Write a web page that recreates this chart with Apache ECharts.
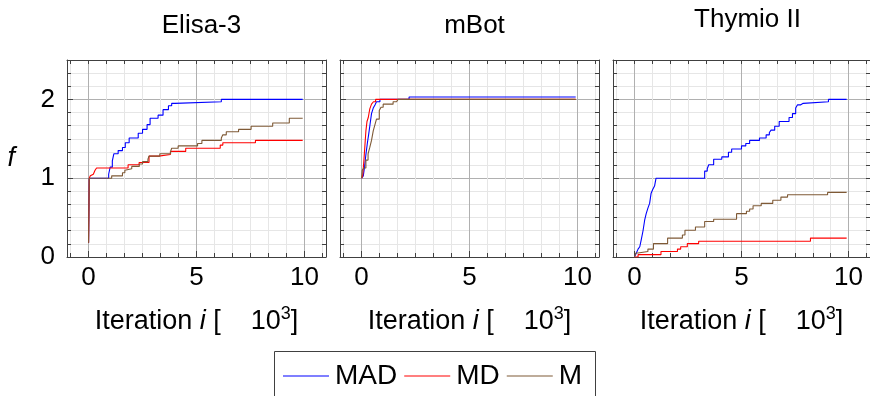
<!DOCTYPE html>
<html><head><meta charset="utf-8">
<script src="https://cdn.jsdelivr.net/npm/echarts@6/dist/echarts.min.js"></script>
<style>html,body{margin:0;padding:0;background:#fff}#c{width:870px;height:396px}</style>
</head><body><div id="c"></div>
<script>
// ---------- data ----------
const panelTitles = ['Elisa-3', 'mBot', 'Thymio II'];
const seriesNames = ['MAD', 'MD', 'M'];
const xMajorTicks = [0, 5, 10];
const yMajorTicks = [0, 1, 2];
const xTickLabels = ['0', '5', '10'];
const yTickLabels = ['0', '1', '2'];

// Elisa-3
const elisaMAD = [[0,0.18],[0.03,1.0],[0.93,1.05],[1.0,1.14],[1.1,1.22],[1.17,1.31],[1.37,1.35],[1.57,1.39],[1.7,1.45],[1.88,1.51],[2.3,1.57],[2.5,1.62],[2.71,1.68],[2.85,1.76],[3.22,1.80],[3.45,1.87],[3.7,1.92],[3.85,1.95],[4.0,1.97],[6.15,2.0],[9.92,2.0]];
const elisaMD = [[0,0.18],[0.03,1.0],[0.08,1.03],[0.15,1.05],[0.22,1.07],[0.3,1.1],[0.37,1.13],[1.83,1.17],[2.34,1.20],[2.8,1.28],[3.25,1.30],[3.79,1.34],[4.5,1.38],[6.1,1.42],[6.22,1.45],[7.73,1.48],[9.92,1.48]];
const elisaM = [[0,0.18],[0.03,1.0],[1.07,1.03],[1.57,1.07],[1.68,1.10],[1.75,1.12],[2.0,1.15],[2.35,1.18],[2.5,1.21],[2.75,1.24],[2.8,1.28],[3.3,1.31],[3.8,1.34],[3.85,1.38],[4.15,1.41],[5.05,1.44],[5.25,1.48],[6.15,1.51],[6.22,1.55],[6.38,1.59],[6.95,1.62],[7.53,1.66],[8.53,1.70],[9.3,1.76],[9.92,1.76]];

// mBot
const mbotMAD = [[0,1.0],[0.08,1.03],[0.14,1.15],[0.2,1.3],[0.27,1.45],[0.33,1.56],[0.4,1.7],[0.46,1.82],[0.54,1.89],[0.62,1.93],[0.69,1.97],[0.85,2.0],[2.2,2.03],[9.92,2.03]];
const mbotMD = [[0,1.0],[0.05,1.03],[0.1,1.2],[0.15,1.4],[0.2,1.6],[0.25,1.72],[0.31,1.77],[0.38,1.88],[0.46,1.94],[0.55,1.97],[0.65,2.0],[9.92,2.0]];
const mbotM = [[0,1.0],[0.03,1.1],[0.1,1.13],[0.2,1.23],[0.3,1.31],[0.38,1.39],[0.46,1.48],[0.54,1.6],[0.62,1.68],[0.69,1.75],[0.82,1.86],[0.9,1.9],[1.0,1.94],[1.46,1.97],[1.62,1.99],[1.69,2.0],[9.92,2.0]];

// Thymio II
const thymioMAD = [[0,0],[0.09,0.05],[0.17,0.1],[0.25,0.13],[0.32,0.22],[0.4,0.33],[0.48,0.47],[0.55,0.55],[0.63,0.62],[0.71,0.68],[0.78,0.81],[0.86,0.86],[0.94,0.9],[1.01,1.0],[3.28,1.09],[3.4,1.12],[3.47,1.17],[3.7,1.24],[4.08,1.27],[4.39,1.33],[4.54,1.37],[5.0,1.41],[5.2,1.44],[5.38,1.48],[5.84,1.51],[6.15,1.55],[6.3,1.58],[6.38,1.61],[6.55,1.66],[6.76,1.72],[7.22,1.77],[7.38,1.82],[7.53,1.89],[7.61,1.93],[7.75,1.95],[7.88,1.97],[9.06,2.0],[9.91,2.0]];
const thymioMD = [[0,0],[0.17,0.03],[1.24,0.07],[2.01,0.1],[2.16,0.13],[2.47,0.17],[3.0,0.2],[8.22,0.24],[9.91,0.24]];
const thymioM = [[0,0],[0.06,0.05],[0.17,0.07],[0.63,0.1],[0.89,0.17],[1.55,0.24],[2.24,0.28],[2.36,0.34],[2.85,0.38],[3.28,0.45],[3.7,0.48],[4.77,0.55],[5.23,0.58],[5.38,0.61],[5.54,0.65],[5.92,0.68],[6.46,0.72],[6.84,0.76],[7.15,0.79],[9.02,0.82],[9.91,0.82]];

const panelData = [
  [elisaMAD, elisaMD, elisaM],
  [mbotMAD, mbotMD, mbotM],
  [thymioMAD, thymioMD, thymioM]
];

// ---------- styling / layout ----------
const FONT = 'Liberation Sans';
const colors = ['#0000ff', '#ff0000', '#7f5a36'];
const frameColor = '#404040';
const majorGrid = '#b0b0b0';
const minorGrid = '#e6e6e6';
const X_MIN = -1, X_MAX = 11, Y_MIN = 0, Y_MAX = 2.5;
const gridLefts = [67, 340, 613];
const gridWidth = 259, gridTop = 60, gridHeight = 197;

function multiples(step, lo, hi) {
  const out = [];
  for (let k = Math.ceil(lo / step - 1e-9); k * step <= hi + 1e-9; k++) out.push(+(k * step).toFixed(6));
  return out;
}
const isMajor = (v, list) => list.some(m => Math.abs(m - v) < 1e-6);
const xAll = multiples(5 / 6, X_MIN, X_MAX);
const xMinor = xAll.filter(v => !isMajor(v, xMajorTicks));
const yAll = multiples(1 / 6, Y_MIN, Y_MAX).filter(v => v > 1e-6 && v < Y_MAX - 1e-6);
const yMinor = yAll.filter(v => !isMajor(v, yMajorTicks));

const grids = [], xAxes = [], yAxes = [], series = [], titles = [];
panelTitles.forEach((t, p) => {
  grids.push({ left: gridLefts[p], top: gridTop, width: gridWidth, height: gridHeight, containLabel: false });
  const cx = gridLefts[p] + gridWidth * (0 - X_MIN + 5) / (X_MAX - X_MIN);
  titles.push({ text: t, left: cx, textAlign: 'center', top: p === 2 ? 2 : 8,
    textStyle: { fontFamily: FONT, fontSize: 26, fontWeight: 'normal', color: '#000' } });
  const base = { type: 'value', gridIndex: p, min: X_MIN, max: X_MAX };
  const xFirst = xAxes.length;
  xAxes.push(Object.assign({}, base, { position: 'bottom',
    axisLine: { show: true, onZero: false, lineStyle: { color: frameColor, width: 1 } },
    axisTick: { show: true, inside: true, length: 4, customValues: xMinor, lineStyle: { color: frameColor } },
    axisLabel: { show: false },
    splitLine: { show: true, lineStyle: { color: minorGrid, width: 1 } } }));
  xAxes.push(Object.assign({}, base, { position: 'bottom',
    axisLine: { show: false, onZero: false },
    axisTick: { show: true, inside: true, length: 6, customValues: xMajorTicks, lineStyle: { color: frameColor } },
    axisLabel: { show: true, customValues: xMajorTicks, margin: 8,
      formatter: v => xTickLabels[xMajorTicks.findIndex(m => Math.abs(m - v) < 1e-6)] || '',
      fontFamily: FONT, fontSize: 26, color: '#000' },
    splitLine: { show: true, lineStyle: { color: majorGrid, width: 1 } },
    name: '{a|Iteration }{b|i}{a| [    10}{c|3}{a|]}', nameLocation: 'middle', nameGap: 48,
    nameTextStyle: { rich: {
      a: { fontFamily: FONT, fontSize: 27, color: '#000', lineHeight: 30, verticalAlign: 'bottom' },
      b: { fontFamily: FONT, fontSize: 27, fontStyle: 'italic', color: '#000', lineHeight: 30, verticalAlign: 'bottom' },
      c: { fontFamily: FONT, fontSize: 18, color: '#000', lineHeight: 30, verticalAlign: 'top' } } } }));
  xAxes.push(Object.assign({}, base, { position: 'top',
    axisLine: { show: true, onZero: false, lineStyle: { color: frameColor, width: 1 } },
    axisTick: { show: true, inside: true, length: 4, customValues: xAll, lineStyle: { color: frameColor } },
    axisLabel: { show: false }, splitLine: { show: false } }));

  const ybase = { type: 'value', gridIndex: p, min: Y_MIN, max: Y_MAX };
  yAxes.push(Object.assign({}, ybase, { position: 'left',
    axisLine: { show: true, onZero: false, lineStyle: { color: frameColor, width: 1 } },
    axisTick: { show: true, inside: true, length: 4, customValues: yMinor, lineStyle: { color: frameColor } },
    axisLabel: { show: false },
    splitLine: { show: true, lineStyle: { color: minorGrid, width: 1 } } }));
  yAxes.push(Object.assign({}, ybase, { position: 'left',
    axisLine: { show: false, onZero: false },
    axisTick: { show: true, inside: true, length: 6, customValues: yMajorTicks, lineStyle: { color: frameColor } },
    axisLabel: { show: p === 0, customValues: yMajorTicks, margin: 12,
      formatter: v => yTickLabels[yMajorTicks.findIndex(m => Math.abs(m - v) < 1e-6)] || '',
      fontFamily: FONT, fontSize: 26, color: '#000' },
    splitLine: { show: true, lineStyle: { color: majorGrid, width: 1 } },
    name: p === 0 ? 'f' : '', nameLocation: 'middle', nameRotate: 0, nameGap: 52,
    nameTextStyle: { fontFamily: FONT, fontSize: 27, fontStyle: 'italic', color: '#000' } }));
  yAxes.push(Object.assign({}, ybase, { position: 'right',
    axisLine: { show: true, onZero: false, lineStyle: { color: frameColor, width: 1 } },
    axisTick: { show: true, inside: true, length: 4, customValues: yAll, lineStyle: { color: frameColor } },
    axisLabel: { show: false }, splitLine: { show: false } }));

  panelData[p].forEach((d, s) => {
    series.push({ type: 'line', name: seriesNames[s], xAxisIndex: xFirst + 1, yAxisIndex: xFirst + 1,
      data: d, step: 'end', symbol: 'none', showSymbol: false, animation: false,
      lineStyle: { color: colors[s], width: 1.1 }, itemStyle: { color: colors[s] }, z: 3 });
  });
});

const chart = echarts.init(document.getElementById('c'), null, { renderer: 'canvas' });
chart.setOption({
  animation: false,
  title: titles,
  grid: grids, xAxis: xAxes, yAxis: yAxes, series: series,
  legend: { show: true, data: seriesNames, left: 278, top: 357, icon: 'rect', itemWidth: 46, itemHeight: 1.2, itemGap: 7,
    textStyle: { fontFamily: FONT, fontSize: 28, color: '#000', padding: [0, 0, 0, 1] } },
  graphic: [{ type: 'rect', shape: { x: 274.5, y: 351.5, width: 321, height: 70 },
    style: { fill: 'none', stroke: frameColor, lineWidth: 1 }, z: 0 }]
});
</script></body></html>
